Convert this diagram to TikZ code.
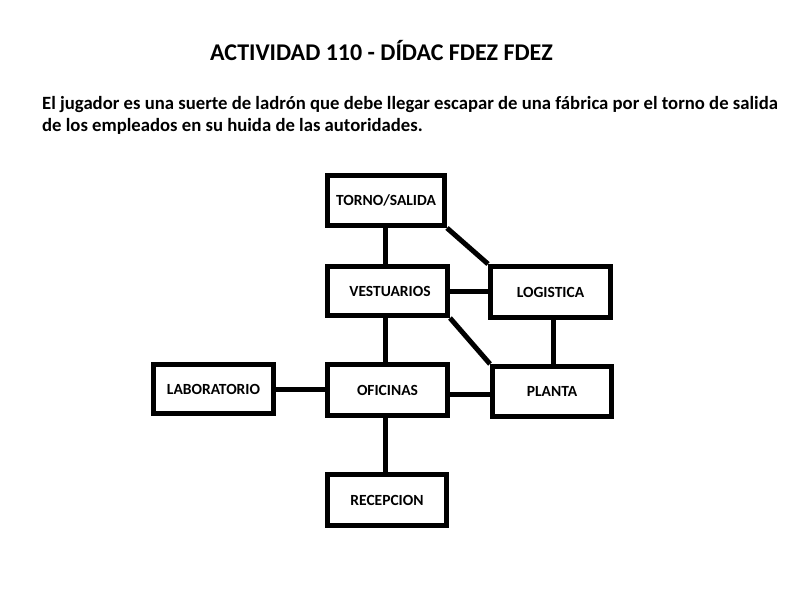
\documentclass[tikz,border=0pt]{standalone}
\usepackage{fontspec}
\setmainfont{Carlito}
\begin{document}
\begin{tikzpicture}[x=1pt,y=-1pt,
  room/.style={draw=black, line width=5pt, inner sep=0pt, font=\bfseries\fontsize{15.5}{18}\selectfont},
  link/.style={line width=5pt}]
\useasboundingbox (0,0) rectangle (800,600);
\node[anchor=base, inner sep=0pt, font=\bfseries\fontsize{24}{28}\selectfont] (title) at (381.5,60) {ACTIVIDAD 110 - DÍDAC FDEZ FDEZ};
\node[anchor=base west, align=left, inner sep=0pt, font=\bfseries\fontsize{18.7}{22}\selectfont] (desc) at (42,131)
  {El jugador es una suerte de ladrón que debe llegar escapar de una fábrica por el torno de salida\\de los empleados en su huida de las autoridades.};
\node[room, minimum width=117pt, minimum height=50pt] (torno) at (386,200.5) {TORNO/SALIDA};
\node[room, minimum width=120pt, minimum height=49pt] (vest) at (387.5,291) {\hspace*{5pt}VESTUARIOS};
\node[room, minimum width=120pt, minimum height=51pt] (log) at (550.5,292) {LOGISTICA};
\node[room, minimum width=120pt, minimum height=49pt] (lab) at (213.5,389) {LABORATORIO};
\node[room, minimum width=120pt, minimum height=51pt] (ofi) at (387.5,390) {OFICINAS};
\node[room, minimum width=119pt, minimum height=50pt] (planta) at (552,391.5) {PLANTA};
\node[room, minimum width=119pt, minimum height=51pt] (recep) at (387,500) {RECEPCION};
\coordinate (vx) at (385,0);
\coordinate (lx) at (553,0);
\draw[link] (torno.south -| vx) -- (vest.north -| vx);
\draw[link] (torno.south east) -- (log.north west);
\draw[link] (vest.east) -- (vest.east -| log.west);
\draw[link] (vest.south east) -- (planta.north west);
\draw[link] (log.south -| lx) -- (planta.north -| lx);
\draw[link] (vest.south -| vx) -- (ofi.north -| vx);
\draw[link] (lab.east) -- (lab.east -| ofi.west);
\draw[link] ([yshift=-4pt]ofi.east) -- ([yshift=-4pt]ofi.east -| planta.west);
\draw[link] (ofi.south -| vx) -- (recep.north -| vx);
\end{tikzpicture}
\end{document}
